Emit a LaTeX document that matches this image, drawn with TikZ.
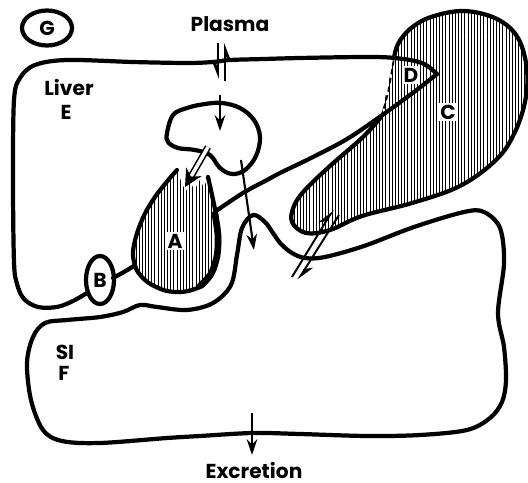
\documentclass[tikz,border=0pt]{standalone}
\usepackage{fontspec}
\setmainfont{Poppins}
\usetikzlibrary{arrows.meta, patterns.meta, shapes.geometric, positioning}
\tikzset{
  outline/.style={line width=2.4pt, line join=round, line cap=round},
  hatched/.style={pattern={Lines[angle=90, distance=1.8pt, line width=0.55pt]}},
  tag/.style={font=\bfseries\fontsize{11.5}{12}\selectfont, inner sep=1pt},
  boxtag/.style={tag, fill=white},
  ring/.style={draw, ellipse, line width=2.4pt, inner sep=0pt},
  flow/.style={line width=1.2pt, -{Stealth[length=9pt, width=6pt]}},
  harpR/.style={line width=1.1pt, -{Stealth[harpoon, swap, length=9pt, width=7pt]}},
  harpL/.style={line width=1.1pt, -{Stealth[harpoon, length=9pt, width=7pt]}},
  twinline/.style={double, double distance=2pt, line width=0.9pt, shorten >=7pt},
  twinhead/.style={line width=0.9pt, shorten <=22pt, -{Stealth[length=10pt, width=10pt]}}
}

\begin{document}
\begin{tikzpicture}[x=0.02cm, y=-0.02cm]
  \useasboundingbox (0,0) rectangle (528,483);

  % C with D
  \draw[outline, hatched] plot[smooth, tension=0.6] coordinates {(394,58) (398,44) (410,29) (431,17) (464,11) (497,19) (518,38) (527,70) (525,102) (514,134) (496,160) (460,186) (412,203) (362,216) (330,230) (306,233) (292,222) (294,206) (305,190) (330,166) (363,137) (381,117)};
  \draw[line width=1pt, dash pattern=on 3pt off 2pt] (381,117) .. controls (388,95) .. (394,58);

  % liver
  \draw[outline] plot[smooth, tension=0.55] coordinates {(437,74) (422,63) (395,58) (364,57) (300,58) (264,59) (230,60) (213,62) (187,63) (133,62) (67,60) (35,65) (20,78) (14,100) (13,180) (14,262) (17,284) (24,299) (38,307) (57,307) (73,301) (87,293)};
  \draw[outline] plot[smooth, tension=0.6] coordinates {(216,211) (243,193) (267,180) (280,173) (313,157) (347,139) (381,116) (414,92) (437,74)};

  % A
  \fill[hatched] plot[smooth, tension=0.7] coordinates {(177,170) (165,184) (153,200) (142,220) (134,245) (134,262) (141,276) (156,287) (175,292) (195,289) (208,280) (216,262) (219,240) (216,215) (212,195) (208,177)} -- (204,187) -- (199,180) -- (195,190) -- (190,183) -- (186,191) -- (182,184) -- cycle;
  \draw[outline] plot[smooth, tension=0.7] coordinates {(177,170) (165,184) (153,200) (142,220) (134,245) (134,262) (141,276) (156,287) (175,292) (195,289) (208,280) (216,262) (219,240) (216,215) (212,195) (208,177)};
  \draw[line width=3.8pt, line cap=round] plot[smooth] coordinates {(200,286) (211,274) (217,256) (218,236) (215,214)};

  % B
  \node[ring, minimum width=0.56cm, minimum height=0.96cm] (ringB) at (100,280) {};
  \node[tag] (B) at (ringB) {B};
  \draw[outline] (113,278) -- (124,272) -- (134,266);

  % vesicle
  \draw[outline] plot[smooth cycle, tension=0.6] coordinates {(167,133) (173,115) (187,108) (205,104) (222,103) (240,108) (254,120) (260,137) (256,156) (245,170) (232,174) (220,168) (210,155) (195,150) (178,148) (168,142)};

  % SI
  \draw[outline] plot[smooth cycle, tension=0.55] coordinates {(33,337) (45,323) (67,320) (100,317) (123,312) (140,305) (157,307) (187,310) (213,303) (231,285) (237,255) (242,228) (253,215) (265,222) (273,233) (281,244) (292,253) (305,258) (325,257) (364,246) (414,227) (464,212) (484,212) (500,228) (504,263) (498,313) (504,347) (506,380) (502,402) (490,418) (467,430) (420,435) (367,436) (300,434) (253,433) (200,436) (167,438) (100,443) (62,441) (43,430) (31,400) (27,363)};

  % labels
  \node[ring, minimum width=1cm, minimum height=0.7cm] (G) at (47,28) {};
  \node[tag] (Gtag) at (G) {G};
  \node[tag] (plasma) at (230,24) {Plasma};
  \node[tag] (liver) at (69,87) {Liver};
  \node[tag] (E) at (66,112) {E};
  \node[boxtag] (D) at (411,75) {D};
  \node[boxtag] (C) at (448,112) {C};
  \node[boxtag] (A) at (175,241) {A};
  \node[tag] (SI) at (65,352) {SI};
  \node[tag] (F) at (64,373) {F};
  \node[tag] (excretion) at (254,470) {Excretion};

  % transfers
  \coordinate (pinTop) at (218,43);   \coordinate (pinBot) at (218,79);
  \coordinate (poutBot) at (225,81);  \coordinate (poutTop) at (225,43);
  \coordinate (vesIn) at (220,95);    \coordinate (vesTop) at (220,131);
  \coordinate (vesOut) at (208,147);  \coordinate (aTop) at (185,187);
  \coordinate (vesLow) at (241,160);  \coordinate (siHump) at (254,250);
  \coordinate (cInA) at (292,277);    \coordinate (cInB) at (333,210);
  \coordinate (cOutA) at (339,215);   \coordinate (cOutB) at (298,280);
  \coordinate (siBot) at (252,413);   \coordinate (excr) at (252,455);

  \draw[harpR] (pinTop) -- (pinBot);
  \draw[harpR] (poutBot) -- (poutTop);
  \draw[flow] (vesIn) -- (vesTop);
  \draw[twinline] (vesOut) -- (aTop);
  \draw[twinhead] (vesOut) -- (aTop);
  \draw[flow] (vesLow) -- (siHump);
  \draw[harpL] (cInA) -- (cInB);
  \draw[harpL] (cOutA) -- (cOutB);
  \draw[flow] (siBot) -- (excr);
\end{tikzpicture}
\end{document}
